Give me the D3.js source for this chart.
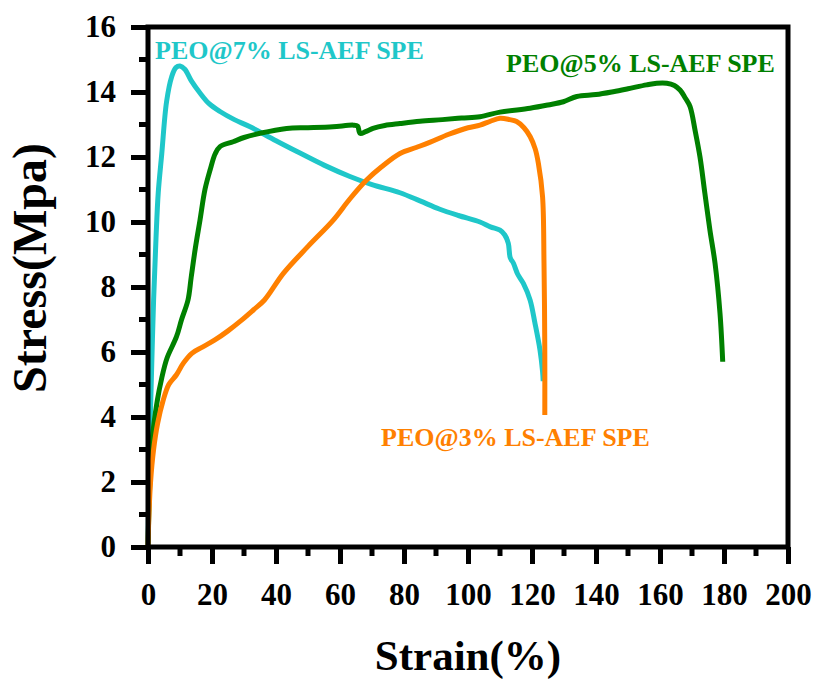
<!DOCTYPE html>
<html>
<head>
<meta charset="utf-8">
<script src="https://cdn.jsdelivr.net/npm/d3@7"></script>
<style>
  body { margin: 0; background: #fff; }
  text { font-family: "Liberation Serif", "Times New Roman", serif; font-weight: bold; }
</style>
</head>
<body>
<svg width="818" height="680"></svg>
<script>
// strain (%) / stress (MPa)
const pct7 = [[0,0],[0.3,2],[0.6,3.5],[1.0,5.0],[1.75,7.6],[2.5,9.5],[3.2,10.9],[4.3,12.1],[5.8,13.7],[7.4,14.47],[8.7,14.75],[10,14.8],[11.5,14.7],[13.5,14.35],[16.25,13.97],[19,13.65],[22.5,13.4],[27,13.15],[31.9,12.93],[40,12.5],[47.5,12.12],[55,11.75],[63.1,11.4],[70,11.15],[78.75,10.9],[85,10.65],[91,10.4],[97,10.2],[103.75,10.0],[107,9.85],[110,9.75],[111.5,9.6],[112.6,9.34],[113.2,8.9],[114.2,8.73],[115.5,8.4],[117.3,8.11],[119.4,7.6],[120.9,6.9],[122.5,6.06],[123.3,5.4],[123.5,5.1]];

const pct5 = [[0,0],[0.5,1.8],[1.2,3.2],[2.9,4.5],[4.3,5.2],[5.9,5.8],[8.9,6.47],[10.5,7.0],[12.5,7.6],[13.5,8.3],[14.8,9.2],[16.25,10.06],[17.8,11.0],[19.4,11.6],[21,12.1],[22.5,12.32],[26.6,12.47],[30,12.6],[35,12.73],[43.3,12.88],[50,12.9],[57.8,12.93],[64.2,12.98],[65.5,12.95],[66.25,12.73],[68,12.78],[70.3,12.88],[74,12.97],[78.75,13.03],[85,13.1],[92,13.15],[98,13.2],[103.75,13.24],[110,13.38],[119.4,13.5],[125,13.6],[129.8,13.7],[134,13.86],[140,13.92],[145.4,14.01],[150,14.1],[155.8,14.22],[159,14.27],[162.1,14.27],[164.5,14.2],[166.25,14.06],[168,13.8],[169.4,13.55],[171,12.8],[172.5,12.0],[174,10.9],[175.6,9.75],[177.2,8.73],[178.75,7.19],[179.6,5.7]];

const pct3 = [[0,0],[0.3,1.0],[0.8,2.0],[1.75,3.0],[3,3.8],[4.7,4.5],[6.5,5.0],[8.9,5.3],[11,5.65],[13.7,5.96],[17,6.15],[20.9,6.37],[25,6.65],[29.25,6.98],[33,7.3],[36.4,7.6],[42.3,8.42],[50,9.25],[57.9,10.06],[63,10.7],[68.3,11.29],[73,11.7],[78.75,12.11],[84,12.3],[88,12.45],[94,12.7],[100,12.9],[103.75,12.98],[107,13.1],[110,13.19],[113,13.15],[115.2,13.09],[117.5,12.9],[119.4,12.63],[121,12.25],[122,11.8],[123.3,10.78],[123.75,8.73],[124,6.0],[124,4.06]];

const series = [
  { name: "PEO@7% LS-AEF SPE", color: "#1fc7c9", data: pct7 },
  { name: "PEO@5% LS-AEF SPE", color: "#008000", data: pct5 },
  { name: "PEO@3% LS-AEF SPE", color: "#ff8000", data: pct3 },
];

const xTicks = [0, 20, 40, 60, 80, 100, 120, 140, 160, 180, 200];
const yTicks = [0, 2, 4, 6, 8, 10, 12, 14, 16];

const svg = d3.select("svg");
const margin = { top: 27, right: 30, bottom: 133, left: 148 };
const width = 818 - margin.left - margin.right;
const height = 680 - margin.top - margin.bottom;

const g = svg.append("g").attr("transform", `translate(${margin.left},${margin.top})`);

const x = d3.scaleLinear().domain([0, 200]).range([0, width]);
const y = d3.scaleLinear().domain([0, 16]).range([height, 0]);

// curves
const line = d3.line().x((d) => x(d[0])).y((d) => y(d[1])).curve(d3.curveCatmullRom.alpha(0.5));
g.selectAll(".curve")
  .data(series)
  .enter()
  .append("path")
  .attr("class", "curve")
  .attr("d", (d) => line(d.data))
  .attr("fill", "none")
  .attr("stroke", (d) => d.color)
  .attr("stroke-width", 5)
  .attr("stroke-linejoin", "round")
  .attr("stroke-linecap", "butt");

// minor ticks
const minorX = d3.range(10, 200, 20);
const minorY = d3.range(1, 16, 2);
g.selectAll(".mx").data(minorX).enter().append("line")
  .attr("x1", (d) => x(d)).attr("x2", (d) => x(d))
  .attr("y1", height).attr("y2", height + 9)
  .attr("stroke", "#000").attr("stroke-width", 5);
g.selectAll(".my").data(minorY).enter().append("line")
  .attr("y1", (d) => y(d)).attr("y2", (d) => y(d))
  .attr("x1", 0).attr("x2", -9)
  .attr("stroke", "#000").attr("stroke-width", 5);

// axes
const xAxis = g.append("g")
  .attr("transform", `translate(0,${height})`)
  .call(d3.axisBottom(x).tickValues(xTicks).tickSize(17).tickPadding(19));
const yAxis = g.append("g")
  .call(d3.axisLeft(y).tickValues(yTicks).tickSize(17).tickPadding(15));

[xAxis, yAxis].forEach((a) => {
  a.select(".domain").remove();
  a.selectAll(".tick line").attr("stroke", "#000").attr("stroke-width", 5);
  a.selectAll(".tick text")
    .attr("fill", "#000")
    .style("font-size", "31px")
    .style("font-family", '"Liberation Serif", serif')
    .style("font-weight", "bold");
});

// frame
g.append("rect")
  .attr("x", 0).attr("y", 0)
  .attr("width", width).attr("height", height)
  .attr("fill", "none")
  .attr("stroke", "#000")
  .attr("stroke-width", 5);

// series labels
const labels = [
  { x: 155, y: 59, color: series[0].color, text: series[0].name },
  { x: 506, y: 72, color: series[1].color, text: series[1].name },
  { x: 381, y: 446, color: series[2].color, text: series[2].name },
];
svg.selectAll(".lbl").data(labels).enter().append("text")
  .attr("x", (d) => d.x).attr("y", (d) => d.y)
  .attr("fill", (d) => d.color)
  .style("font-size", "26px")
  .text((d) => d.text);

// axis titles
svg.append("text")
  .attr("x", margin.left + width / 2)
  .attr("y", 670)
  .attr("text-anchor", "middle")
  .style("font-size", "43px")
  .text("Strain(%)");

svg.append("text")
  .attr("transform", "translate(46,268) rotate(-90)")
  .attr("text-anchor", "middle")
  .style("font-size", "48px")
  .text("Stress(Mpa)");
</script>
</body>
</html>
